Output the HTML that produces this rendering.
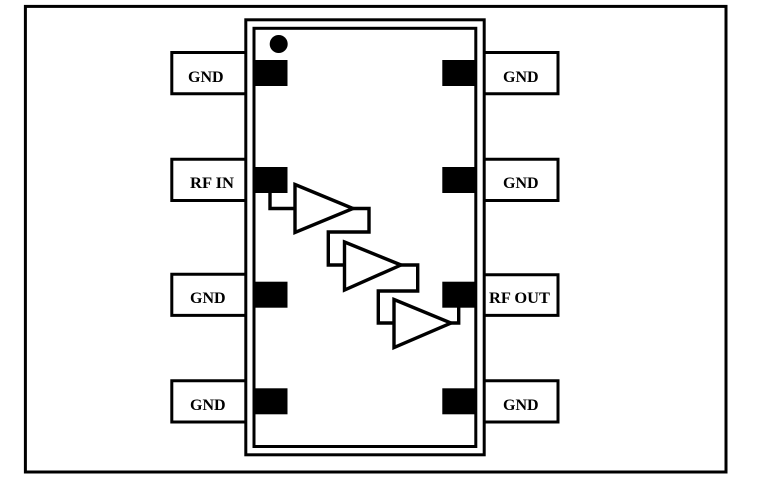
<!DOCTYPE html>
<html>
<head>
<meta charset="utf-8">
<style>
html,body{margin:0;padding:0;background:#fff;}
svg{display:block;}
text{font-family:"Liberation Serif",serif;font-weight:bold;font-size:16px;fill:#000;}
</style>
</head>
<body>
<svg width="777" height="489" viewBox="0 0 777 489" xmlns="http://www.w3.org/2000/svg">
<rect x="0" y="0" width="777" height="489" fill="#fff"/>
<g fill="none" stroke="#000" stroke-width="3">
  <!-- outer frame -->
  <rect x="25.4" y="6.4" width="700.6" height="465.6"/>
  <!-- leads -->
  <path d="M246 52.5H171.8V93.8H246"/>
  <path d="M246 159.2H171.8V200.5H246"/>
  <path d="M246 274.2H171.8V315.4H246"/>
  <path d="M246 380.8H171.8V422H246"/>
  <path d="M484 52.5H558V93.8H484"/>
  <path d="M484 159.2H558V200.5H484"/>
  <path d="M484 274.7H558V315.4H484"/>
  <path d="M484 380.8H558V422H484"/>
  <!-- package -->
  <rect x="245.8" y="19.8" width="238.4" height="435"/>
  <rect x="254" y="28.3" width="221.8" height="418.2"/>
</g>
<!-- pads -->
<g fill="#000">
  <rect x="254" y="60" width="33.5" height="26"/>
  <rect x="254" y="167" width="33.5" height="26"/>
  <rect x="254" y="281.7" width="33.5" height="26"/>
  <rect x="254" y="388.3" width="33.5" height="26"/>
  <rect x="442.3" y="60" width="33" height="26"/>
  <rect x="442.3" y="167" width="33" height="26"/>
  <rect x="442.3" y="281.7" width="33" height="26"/>
  <rect x="442.3" y="388.3" width="33" height="26"/>
  <circle cx="278.7" cy="44" r="9"/>
</g>
<!-- amplifiers and wiring -->
<g fill="none" stroke="#000" stroke-width="3.4">
  <path d="M295 184.5L353 208.5L295 232.5Z"/>
  <path d="M344.5 242L401 265L344.5 290Z"/>
  <path d="M394 299.5L451 323L394 347.5Z"/>
  <path d="M270 192V208.5H295"/>
  <path d="M353 208.5H369V232H328.3V265H344.5"/>
  <path d="M401 265H417.7V291H378.3V323H394"/>
  <path d="M451 323H458.7V307"/>
</g>
<!-- labels -->
<text x="188" y="82">GND</text>
<text x="190" y="188" textLength="44" lengthAdjust="spacingAndGlyphs" style="font-size:15.5px">RF IN</text>
<text x="190" y="303">GND</text>
<text x="190" y="410">GND</text>
<text x="503" y="82">GND</text>
<text x="503" y="188">GND</text>
<text x="489" y="303" textLength="61" lengthAdjust="spacingAndGlyphs" style="font-size:15.5px">RF OUT</text>
<text x="503" y="410">GND</text>
</svg>
</body>
</html>
